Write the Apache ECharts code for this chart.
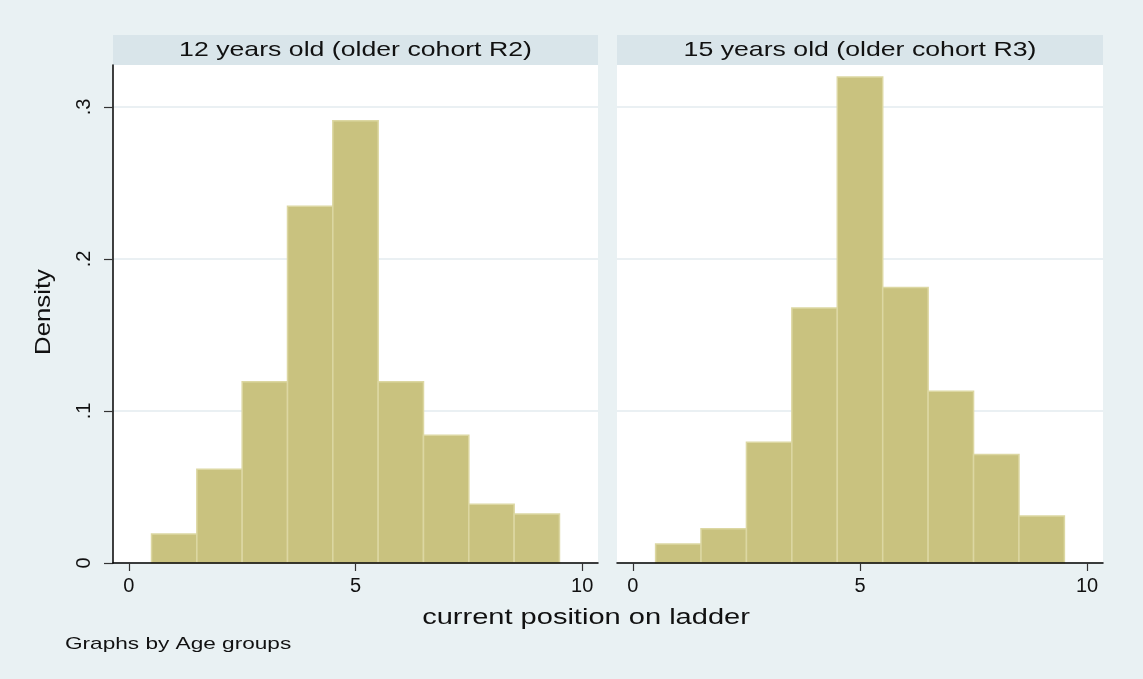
<!DOCTYPE html>
<html>
<head>
<meta charset="utf-8">
<title>current position on ladder</title>
<script src="https://cdn.jsdelivr.net/npm/echarts@6/dist/echarts.min.js"></script>
<style>
    html, body { margin: 0; padding: 0; background: #e9f1f3; }
    #main { width: 1143px; height: 679px; }
</style>
</head>
<body>
<div id="main"></div>
<script>
// 数据
var bins = [1, 2, 3, 4, 5, 6, 7, 8, 9];
var binWidth = 1;
var density12 = [0.0191, 0.0616, 0.1193, 0.2347, 0.2910, 0.1193, 0.0840, 0.0386, 0.0322];
var density15 = [0.0125, 0.0226, 0.0794, 0.1678, 0.3197, 0.1812, 0.1130, 0.0713, 0.0309];
var panelTitles = ["12 years old (older cohort R2)", "15 years old (older cohort R3)"];
var xTicks = [0, 5, 10];
var yTicks = [0, 0.1, 0.2, 0.3];
var yTickLabels = ["0", ".1", ".2", ".3"];

var font = "'Liberation Sans', Arial, sans-serif";
var barFill = "#c9c27f";
var barEdge = "#dcd7a2";
var gridColor = "#e3ebef";

function toPairs(xs, ys) {
    var out = [];
    for (var i = 0; i < xs.length; i++) {
        out.push([xs[i], ys[i]]);
    }
    return out;
}

function renderBar(params, api) {
    var x = api.value(0);
    var y = api.value(1);
    var p0 = api.coord([x - binWidth / 2, y]);
    var p1 = api.coord([x + binWidth / 2, 0]);
    return {
        type: "rect",
        shape: { x: p0[0], y: p0[1], width: p1[0] - p0[0], height: p1[1] - p0[1] },
        style: { fill: barFill, stroke: barEdge, lineWidth: 1.5 },
    };
}

function makeXAxis(idx) {
    return {
        type: "value",
        gridIndex: idx,
        min: -0.35,
        max: 10.35,
        z: 10,
        axisLine: { show: true, onZero: false, lineStyle: { color: "#000", width: 1.5 } },
        axisTick: { show: true, length: 8, customValues: xTicks, lineStyle: { color: "#333", width: 1.2 } },
        axisLabel: {
            customValues: xTicks,
            margin: 13,
            fontSize: 20,
            fontFamily: font,
            color: "#111",
        },
        splitLine: { show: false },
    };
}

function makeYAxis(idx, withAxis) {
    return {
        type: "value",
        gridIndex: idx,
        min: 0,
        max: 0.3276,
        interval: 0.1,
        axisLine: { show: withAxis, onZero: false, lineStyle: { color: "#000", width: 1.5 } },
        axisTick: { show: withAxis, length: 9, customValues: yTicks, lineStyle: { color: "#333", width: 1.2 } },
        axisLabel: {
            show: withAxis,
            customValues: yTicks,
            rotate: 90,
            margin: 19,
            fontSize: 20,
            fontFamily: font,
            color: "#111",
            formatter: function (v) {
                var k = yTicks.indexOf(Math.round(v * 10) / 10);
                return k >= 0 ? yTickLabels[k] : "";
            },
        },
        splitLine: { show: true, lineStyle: { color: gridColor, width: 1.5 } },
    };
}

var myChart = echarts.init(document.getElementById("main"));
var option = {
    backgroundColor: "#e9f1f3",
    animation: false,
    grid: [
        { left: 113, width: 485, top: 65, height: 498, show: true, backgroundColor: "#fff", borderWidth: 0 },
        { left: 617, width: 486, top: 65, height: 498, show: true, backgroundColor: "#fff", borderWidth: 0 },
    ],
    xAxis: [makeXAxis(0), makeXAxis(1)],
    yAxis: [makeYAxis(0, true), makeYAxis(1, false)],
    series: [
        {
            type: "custom",
            xAxisIndex: 0,
            yAxisIndex: 0,
            renderItem: renderBar,
            encode: { x: 0, y: 1 },
            data: toPairs(bins, density12),
        },
        {
            type: "custom",
            xAxisIndex: 1,
            yAxisIndex: 1,
            renderItem: renderBar,
            encode: { x: 0, y: 1 },
            data: toPairs(bins, density15),
        },
    ],
    graphic: [
        // 面板标题条
        { type: "rect", left: 113, top: 35, shape: { width: 485, height: 30 }, style: { fill: "#d9e5ea" } },
        { type: "rect", left: 617, top: 35, shape: { width: 486, height: 30 }, style: { fill: "#d9e5ea" } },
        {
            type: "text", x: 355.5, y: 50, scaleX: 1.27,
            style: { text: panelTitles[0], font: "21px " + font, fill: "#111", align: "center", verticalAlign: "middle" },
        },
        {
            type: "text", x: 860, y: 50, scaleX: 1.27,
            style: { text: panelTitles[1], font: "21px " + font, fill: "#111", align: "center", verticalAlign: "middle" },
        },
        // 坐标轴标题
        {
            type: "text", x: 586, y: 618, scaleX: 1.32,
            style: { text: "current position on ladder", font: "22px " + font, fill: "#111", align: "center", verticalAlign: "middle" },
        },
        {
            type: "text", x: 44, y: 312, rotation: Math.PI / 2, scaleX: 1.17,
            style: { text: "Density", font: "22px " + font, fill: "#111", align: "center", verticalAlign: "middle" },
        },
        {
            type: "text", x: 65, y: 644, scaleX: 1.33,
            style: { text: "Graphs by Age groups", font: "17px " + font, fill: "#111", align: "left", verticalAlign: "middle" },
        },
    ],
};
myChart.setOption(option);
</script>
</body>
</html>
